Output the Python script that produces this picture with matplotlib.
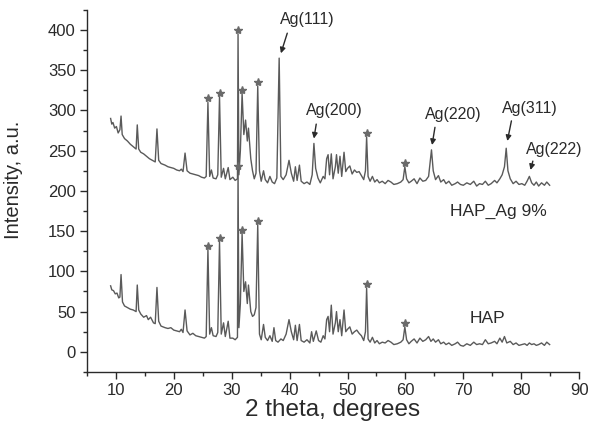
import matplotlib
matplotlib.use("Agg")
import matplotlib.pyplot as plt
from matplotlib.ticker import MultipleLocator

# ---- data ----
hap_ag_2theta = [9.1, 9.3, 9.5, 9.8, 10.1, 10.4, 10.7, 10.9, 11.1, 11.5, 12.0, 12.5, 13.0, 13.5, 13.7, 13.95, 14.3, 14.8,
    15.3, 15.8, 16.3, 16.8, 17.1, 17.4, 17.8, 18.5, 19.0, 19.5, 20.0, 20.5, 21.0, 21.3, 21.6, 21.95, 22.3, 22.8, 23.3,
    23.8, 24.3, 24.8, 25.3, 25.6, 25.9, 26.2, 26.5, 26.8, 27.3, 27.6, 27.9, 28.2, 28.6, 28.9, 29.4, 29.7, 30.2, 30.6,
    31.0, 31.1, 31.25, 31.5, 31.8, 32.1, 32.4, 32.7, 32.9, 33.3, 33.6, 33.9, 34.2, 34.5, 34.8, 35.1, 35.5, 35.8, 36.2,
    36.6, 37.0, 37.4, 37.8, 38.2, 38.5, 38.9, 39.4, 39.9, 40.3, 40.7, 41.0, 41.3, 41.7, 42.0, 42.5, 43.0, 43.5, 43.9,
    44.2, 44.5, 44.9, 45.3, 45.8, 46.1, 46.4, 46.65, 46.9, 47.2, 47.5, 47.9, 48.1, 48.4, 48.7, 49.0, 49.4, 49.7, 50.0,
    50.4, 50.8, 51.2, 51.6, 52.0, 52.4, 52.8, 53.1, 53.3, 53.55, 53.9, 54.3, 54.7, 55.1, 55.5, 56.0, 56.5, 57.0, 57.5,
    58.0, 58.6, 59.2, 59.6, 59.9, 60.2, 60.6, 61.0, 61.5, 62.0, 62.5, 63.0, 63.5, 64.0, 64.5, 64.8, 65.2, 65.7, 66.1,
    66.6, 67.0, 67.5, 68.0, 68.6, 69.0, 69.5, 70.0, 70.6, 71.2, 71.8, 72.3, 72.8, 73.3, 73.8, 74.3, 74.8, 75.4, 75.8,
    76.3, 76.7, 77.1, 77.4, 77.7, 78.1, 78.6, 79.1, 79.6, 80.1, 80.6, 81.0, 81.4, 81.8, 82.2, 82.6, 83.0, 83.5, 84.0,
    84.4, 84.9]
hap_ag_int = [290, 283, 285, 278, 280, 272, 276, 293, 270, 265, 262, 258, 255, 252, 282, 252, 248, 246,
    243, 240, 238, 236, 277, 238, 234, 232, 230, 229, 228, 226, 225, 227, 224, 247, 225, 222, 221,
    220, 219, 217, 216, 218, 310, 218, 226, 216, 215, 220, 317, 217, 228, 215, 229, 214, 217, 213,
    215, 395, 220, 250, 321, 270, 288, 262, 278, 240, 225, 215, 222, 330, 225, 212, 225, 214, 210,
    218, 211, 209, 216, 365, 218, 214, 220, 238, 222, 212, 230, 213, 232, 212, 209, 211, 208, 220,
    259, 228, 216, 210, 218, 215, 240, 245, 220, 246, 215, 230, 245, 222, 243, 218, 248, 224, 228,
    231, 221, 226, 223, 224, 219, 214, 225, 267, 218, 212, 218, 211, 214, 210, 212, 209, 213, 211,
    208, 209, 211, 214, 230, 215, 210, 212, 215, 209, 216, 212, 213, 218, 251, 225, 214, 219, 211,
    214, 209, 212, 207, 209, 211, 208, 207, 210, 208, 212, 206, 209, 208, 212, 207, 209, 213, 210,
    215, 220, 230, 253, 225, 215, 209, 212, 208, 209, 207, 212, 218, 210, 207, 211, 206, 210, 207,
    211, 207]

hap_2theta = [9.1, 9.3, 9.6, 9.9, 10.2, 10.5, 10.7, 10.9, 11.15, 11.5, 12.0, 12.5, 13.0, 13.5, 13.7, 13.95, 14.3, 14.8,
    15.3, 15.6, 16.0, 16.5, 16.8, 17.1, 17.4, 17.8, 18.5, 19.0, 19.5, 20.0, 20.5, 21.0, 21.3, 21.6, 21.95, 22.3, 22.8,
    23.3, 23.8, 24.3, 24.8, 25.3, 25.6, 25.9, 26.2, 26.5, 26.8, 27.3, 27.6, 27.9, 28.2, 28.6, 28.9, 29.4, 29.7, 30.2,
    30.6, 31.0, 31.1, 31.25, 31.5, 31.8, 32.1, 32.4, 32.7, 32.9, 33.3, 33.6, 33.9, 34.2, 34.5, 34.8, 35.1, 35.5, 35.8,
    36.2, 36.6, 37.0, 37.3, 37.6, 38.0, 38.5, 38.9, 39.4, 39.9, 40.3, 40.7, 41.0, 41.3, 41.7, 42.0, 42.5, 43.0, 43.5,
    43.8, 44.1, 44.6, 45.0, 45.4, 45.8, 46.1, 46.4, 46.65, 46.9, 47.2, 47.5, 47.9, 48.1, 48.4, 48.7, 49.0, 49.4, 49.7,
    50.0, 50.4, 50.8, 51.2, 51.6, 52.0, 52.4, 52.8, 53.1, 53.3, 53.55, 53.9, 54.3, 54.7, 55.1, 55.5, 56.0, 56.5, 57.0,
    57.5, 58.0, 58.6, 59.2, 59.6, 59.9, 60.2, 60.6, 61.0, 61.5, 62.0, 62.5, 63.0, 63.5, 64.0, 64.4, 64.8, 65.2, 65.7,
    66.1, 66.6, 67.0, 67.5, 68.0, 68.6, 69.0, 69.5, 70.0, 70.6, 71.2, 71.8, 72.3, 72.8, 73.3, 73.8, 74.3, 74.8, 75.4,
    75.8, 76.3, 76.7, 77.1, 77.5, 78.1, 78.6, 79.1, 79.6, 80.1, 80.6, 81.0, 81.4, 81.8, 82.2, 82.6, 83.0, 83.5, 84.0,
    84.4, 84.9]
hap_int = [82, 77, 76, 72, 73, 67, 68, 96, 62, 57, 55, 53, 52, 50, 83, 52, 47, 43,
    45, 40, 43, 36, 35, 80, 38, 32, 30, 29, 30, 27, 26, 25, 28, 24, 52, 26, 21,
    23, 20, 19, 18, 17, 19, 127, 22, 30, 20, 19, 24, 137, 22, 36, 19, 38, 17, 17,
    15, 18, 226, 30, 60, 147, 75, 87, 60, 83, 50, 44, 46, 55, 158, 22, 15, 34, 18,
    14, 20, 13, 30, 14, 12, 16, 14, 22, 40, 25, 15, 33, 14, 34, 14, 12, 15, 11,
    25, 13, 26, 14, 12, 20, 16, 40, 44, 25, 58, 22, 36, 50, 25, 40, 20, 52, 25,
    28, 31, 22, 25, 27, 23, 20, 14, 25, 79, 16, 12, 18, 11, 14, 10, 12, 11, 14,
    12, 9, 10, 12, 15, 31, 15, 10, 13, 16, 11, 17, 13, 15, 19, 13, 16, 12, 15,
    10, 12, 9, 11, 8, 10, 12, 8, 7, 10, 8, 12, 9, 10, 9, 15, 10, 11, 13,
    10, 17, 12, 19, 11, 13, 9, 11, 8, 9, 10, 8, 11, 9, 10, 8, 9, 11, 8,
    12, 9]

# HAP reflections marked with stars (2theta)
star_hap_ag = [25.9, 27.9, 31.1, 31.8, 34.5, 53.3, 59.9]
star_hap = [25.9, 27.9, 31.1, 31.8, 34.5, 53.3, 59.9]

# Ag reflection labels
ag_labels = ["Ag(111)", "Ag(200)", "Ag(220)", "Ag(311)", "Ag(222)"]
ag_label_xy = [(43.0, 413), (47.8, 300), (68.2, 295), (81.4, 302), (85.7, 251)]
ag_arrow_from = [(39.6, 396), (44.6, 283), (65.1, 279), (78.3, 287), (82.0, 237)]
ag_arrow_to = [(38.5, 371), (44.2, 265), (64.6, 257), (77.6, 262), (81.6, 226)]

series_labels = ["HAP_Ag 9%", "HAP"]
series_label_xy = [(76.1, 175), (74.2, 42)]

x_ticks = [10, 20, 30, 40, 50, 60, 70, 80, 90]
y_ticks = [0, 50, 100, 150, 200, 250, 300, 350, 400]

# ---- plotting ----
plt.rcParams['font.family'] = ['Liberation Sans', 'DejaVu Sans']
fig = plt.figure(figsize=(5.91, 4.28), dpi=100)
ax = fig.add_axes([0.147, 0.131, 0.833, 0.846])

line_color = '#5a5a5a'
ax.plot(hap_ag_2theta, hap_ag_int, color=line_color, lw=1.0)
ax.plot(hap_2theta, hap_int, color=line_color, lw=1.0)

def peak_val(xs, ys, x0):
    i = min(range(len(xs)), key=lambda k: abs(xs[k] - x0))
    return ys[i]

for x0 in star_hap_ag:
    ax.plot(x0, peak_val(hap_ag_2theta, hap_ag_int, x0) + 5, marker='*', color='#6a6a6a',
            markersize=6, linestyle='none')
for x0 in star_hap:
    ax.plot(x0, peak_val(hap_2theta, hap_int, x0) + 5, marker='*', color='#6a6a6a',
            markersize=6, linestyle='none')

txt_color = '#2a2a2a'
for t, xy, p0, p1 in zip(ag_labels, ag_label_xy, ag_arrow_from, ag_arrow_to):
    ax.text(xy[0], xy[1], t, ha='center', va='center', fontsize=11.5, color=txt_color)
    ax.annotate('', xy=p1, xytext=p0,
                arrowprops=dict(arrowstyle='-|>', color=txt_color, lw=1.0,
                                mutation_scale=8, shrinkA=0, shrinkB=0))

for t, xy in zip(series_labels, series_label_xy):
    ax.text(xy[0], xy[1], t, ha='center', va='center', fontsize=12.5, color=txt_color)

ax.set_xlim(5, 90)
ax.set_ylim(-25, 425)
ax.set_xticks(x_ticks)
ax.set_yticks(y_ticks)
ax.xaxis.set_minor_locator(MultipleLocator(5))
ax.yaxis.set_minor_locator(MultipleLocator(25))
ax.tick_params(which='major', direction='out', length=5, width=1.0, labelsize=12, colors=txt_color, pad=3)
ax.tick_params(which='minor', direction='out', length=3, width=1.0, colors=txt_color)
for s in ['top', 'right']:
    ax.spines[s].set_visible(False)
for s in ['left', 'bottom']:
    ax.spines[s].set_linewidth(1.0)
    ax.spines[s].set_color(txt_color)

ax.set_xlabel('2 theta, degrees', fontsize=17.5, color=txt_color, labelpad=1)
ax.set_ylabel('Intensity, a.u.', fontsize=14.5, color=txt_color, labelpad=14)
ax.yaxis.set_label_coords(-0.13, 0.53)

fig.savefig('out.png', dpi=100)
